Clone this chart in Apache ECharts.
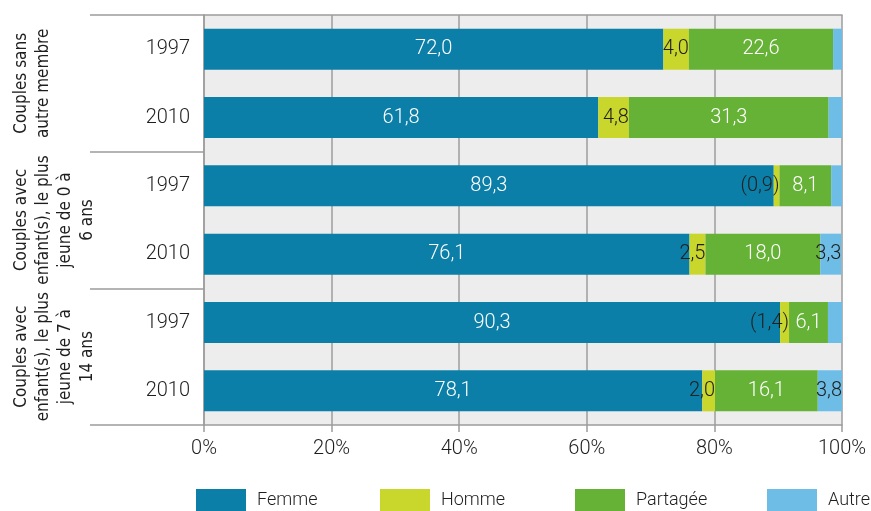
<!DOCTYPE html>
<html>
<head>
<meta charset="utf-8">
<script src="https://cdn.jsdelivr.net/npm/echarts@6/dist/echarts.min.js"></script>
<style>
  html, body { margin: 0; padding: 0; background: #ffffff; }
  #chart { width: 871px; height: 511px; }
</style>
</head>
<body>
<div id="chart"></div>
<script>
// Répartition des tâches ménagères selon le type de ménage (%)
const groups = ['Couples sans\nautre membre', 'Couples avec\nenfant(s), le plus\njeune de 0 à\n6 ans', 'Couples avec\nenfant(s), le plus\njeune de 7 à\n14 ans'];
const years = ['1997', '2010', '1997', '2010', '1997', '2010'];
const seriesNames = ['Femme', 'Homme', 'Partagée', 'Autre'];
const femme = [72.0, 61.8, 89.3, 76.1, 90.3, 78.1];
const homme = [4.0, 4.8, 0.9, 2.5, 1.4, 2.0];
const partagee = [22.6, 31.3, 8.1, 18.0, 6.1, 16.1];
const autre = [1.4, 2.1, 1.7, 3.3, 2.2, 3.8];
// Valeurs imprécises, affichées entre parenthèses
const hommeImprecis = [false, false, true, false, true, false];
// Étiquettes affichées pour la part « Autre »
const autreEtiquette = [false, false, false, true, false, true];
const xTicks = [0, 20, 40, 60, 80, 100];

const FONT = 'Roboto, "DejaVu Sans Condensed", sans-serif';
const NARROW = '"DejaVu Sans Condensed", Roboto, sans-serif';
const TEXT = '#1e1e1e';
const GRID = '#9c9c9c';
const colors = ['#0b7fa7', '#c9d62c', '#65b236', '#6dbde6'];

const fmt = v => v.toFixed(1).replace('.', ',');

const chart = echarts.init(document.getElementById('chart'), null, { renderer: 'canvas' });

function barSeries(i, data, label) {
  return {
    name: seriesNames[i],
    type: 'bar',
    stack: 'total',
    barWidth: 41,
    yAxisIndex: 0,
    data: data,
    itemStyle: { color: colors[i] },
    emphasis: { disabled: true },
    label: Object.assign({ show: true, fontFamily: FONT, fontWeight: 300, fontSize: 20 }, label)
  };
}

// One legend entry per block, spread along the bottom
const legendLeft = [196, 380, 575, 767];
const legends = seriesNames.map((name, i) => ({
  left: legendLeft[i], top: 489, padding: 0,
  itemWidth: 50, itemHeight: 22,
  icon: 'rect',
  selectedMode: false,
  textStyle: { fontFamily: FONT, fontWeight: 300, fontSize: 18, color: TEXT, padding: [0, 0, 0, 6] },
  data: [name]
}));

chart.setOption({
  animation: false,
  textStyle: { fontFamily: FONT },
  grid: {
    left: 204, right: 29, top: 15, bottom: 86,
    show: true, backgroundColor: '#ededed', borderWidth: 0
  },
  legend: legends,
  xAxis: [{
    type: 'value', min: xTicks[0], max: xTicks[xTicks.length - 1], interval: 20,
    axisLine: { show: true, lineStyle: { color: GRID, width: 1.5 } },
    axisTick: { show: true, length: 7, lineStyle: { color: GRID, width: 1.5 } },
    splitLine: { show: true, lineStyle: { color: GRID, width: 1.5 } },
    axisLabel: { fontFamily: FONT, fontWeight: 300, fontSize: 20, color: TEXT, margin: 14, formatter: v => v + '%' }
  }, {
    type: 'value', position: 'top', min: 0, max: 100,
    axisLine: { show: true, lineStyle: { color: GRID, width: 1.5 } },
    axisTick: { show: false }, axisLabel: { show: false }, splitLine: { show: false }
  }],
  yAxis: [{
    type: 'category', data: years, inverse: true, position: 'left',
    axisLine: { show: false }, axisTick: { show: false },
    axisLabel: { fontFamily: FONT, fontWeight: 300, fontSize: 20, color: TEXT, margin: 14 }
  }, {
    type: 'category', data: groups, inverse: true, position: 'left',
    axisLine: { show: true, lineStyle: { color: GRID, width: 1.5 } },
    axisTick: { show: true, interval: 0, length: 114, lineStyle: { color: GRID, width: 1.5 } },
    axisLabel: {
      interval: 0, rotate: 90, margin: 193, verticalAlign: 'top', align: 'center',
      fontFamily: NARROW, fontSize: 17, lineHeight: 22, color: TEXT
    }
  }],
  series: [
    barSeries(0, femme, {
      position: 'inside', color: '#ffffff', formatter: p => fmt(p.value)
    }),
    barSeries(1, homme, {
      position: 'insideRight', distance: 0, color: TEXT,
      formatter: p => hommeImprecis[p.dataIndex] ? '(' + fmt(p.value) + ')' : fmt(p.value)
    }),
    barSeries(2, partagee, {
      position: 'inside', color: '#ffffff', formatter: p => fmt(p.value)
    }),
    barSeries(3, autre, {
      position: 'insideRight', distance: 0, color: TEXT,
      formatter: p => autreEtiquette[p.dataIndex] ? fmt(p.value) : ''
    })
  ]
});
</script>
</body>
</html>
